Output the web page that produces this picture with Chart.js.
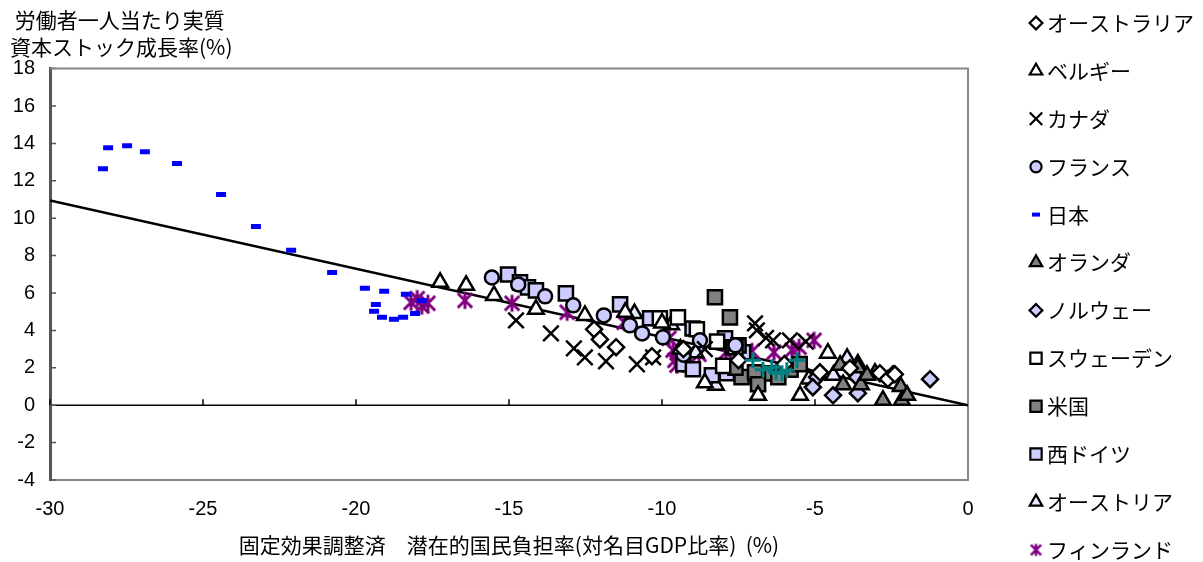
<!DOCTYPE html>
<html>
<head>
<meta charset="utf-8">
<script src="https://cdn.jsdelivr.net/npm/chart.js@4/dist/chart.umd.min.js"></script>
<style>
html,body{margin:0;background:#fff}
#wrap{width:1203px;height:562px}
</style>
</head>
<body>
<div id="wrap"><canvas id="c"></canvas></div>
<script>
// data: [x, y] pairs
const names = ["オーストラリア","ベルギー","カナダ","フランス","日本","オランダ","ノルウェー","スウェーデン","米国","西ドイツ","オーストリア","フィンランド"]
const australia = [[-12.22,4.06],[-12.03,3.52],[-11.5,3.1],[-10.33,2.62],[-9.3,3.0],[-7.5,2.4],[-6.0,2.2],[-4.84,1.76],[-3.86,1.98],[-2.88,1.71],[-2.62,1.4],[-2.39,1.65]]
const belgium = [[-17.25,6.57],[-16.4,6.41],[-15.49,5.87],[-14.12,5.13],[-12.52,4.8],[-11.2,4.97],[-10.0,4.4],[-9.4,3.0],[-8.6,1.2],[-6.86,0.53],[-5.49,0.53],[-4.58,2.78]]
const canada = [[-14.77,4.54],[-13.63,3.84],[-12.88,3.04],[-12.52,2.56],[-11.83,2.35],[-10.82,2.19],[-10.29,2.56],[-6.96,4.38],[-6.9,4.0],[-6.37,3.47],[-5.82,3.47],[-5.3,3.4],[-6.6,3.6],[-8.6,3.0]]
const france = [[-15.56,6.83],[-14.7,6.46],[-13.82,5.82],[-12.9,5.34],[-11.9,4.8],[-11.05,4.27],[-10.65,3.84],[-9.97,3.63],[-8.76,3.47],[-7.6,3.2],[-9.3,2.7]]
const japan = [[-28.27,12.65],[-28.1,13.77],[-27.48,13.88],[-26.9,13.56],[-25.85,12.92],[-24.41,11.27],[-23.27,9.56],[-22.12,8.28],[-20.78,7.1],[-19.71,6.25],[-19.08,6.09],[-18.37,5.93],[-19.35,5.39],[-19.41,5.02],[-19.15,4.7],[-18.76,4.59],[-18.46,4.7],[-18.07,4.91],[-17.85,5.6]]
const netherlands = [[-4.18,2.14],[-4.08,1.1],[-3.6,2.0],[-3.5,1.1],[-3.04,1.71],[-2.78,0.27],[-2.2,1.0],[-2.16,0.27],[-1.99,0.53],[-3.3,1.6]]
const norway = [[-4.93,1.5],[-5.07,0.96],[-4.41,0.53],[-3.63,1.5],[-3.6,0.64],[-2.45,1.65],[-1.24,1.39]]
const sweden = [[-10.07,4.65],[-9.48,4.7],[-8.86,4.06],[-8.2,3.4],[-7.6,3.1],[-8.0,2.1]]
const usa = [[-8.27,5.77],[-7.78,4.7],[-7.5,3.2],[-7.4,1.5],[-6.96,1.76],[-6.86,1.12],[-6.4,1.7],[-5.8,1.9],[-5.5,2.2],[-7.6,2.0],[-6.2,1.5]]
const westGermany = [[-15.03,6.99],[-14.64,6.57],[-14.38,6.3],[-14.12,6.14],[-13.14,5.98],[-11.37,5.39],[-10.39,4.65],[-9.0,4.1],[-9.3,2.2],[-8.99,1.92],[-8.37,1.6],[-7.88,1.71],[-7.94,3.58],[-7.68,3.1],[-7.35,2.83]]
const austria = [[-9.7,4.3],[-10.9,4.9],[-8.9,2.8],[-8.24,1.07],[-3.95,2.51],[-4.4,1.6],[-3.6,2.2],[-5.2,1.4]]
const finland = [[-18.2,5.5],[-18.0,5.7],[-17.85,5.3],[-17.65,5.45],[-16.44,5.6],[-14.9,5.45],[-13.1,4.97],[-11.24,4.43],[-9.77,3.58],[-9.64,2.94],[-9.58,2.4],[-9.51,2.14],[-9.25,2.4],[-8.79,2.72],[-7.91,2.83],[-7.06,2.88],[-6.34,2.83],[-5.75,2.94],[-5.52,3.1],[-5.03,3.47]]
const other = [[-7.03,2.4],[-6.41,2.03],[-6.08,1.71],[-5.92,1.87],[-5.59,2.4],[-6.27,1.76],[-6.7,1.9]]
const trend = [[-30,10.95],[0,0]]

const xTicks = [-30,-25,-20,-15,-10,-5,0]
const yTicks = [-4,-2,0,2,4,6,8,10,12,14,16,18]

function asterisk(size, color, lw){
  const c = document.createElement("canvas")
  c.width = c.height = size
  const g = c.getContext("2d")
  g.strokeStyle = color
  g.lineWidth = lw
  const m = size/2, r = size/2 - 1.5, d = r*0.85
  g.beginPath()
  g.moveTo(m, m-r); g.lineTo(m, m+r)
  g.moveTo(m-d, m-d); g.lineTo(m+d, m+d)
  g.moveTo(m+d, m-d); g.lineTo(m-d, m+d)
  g.stroke()
  return c
}

const lav = "#CCCCFF", grey = "#808080"
const looks = [
  {style:"rectRot", r:8, bg:"#fff", bc:"#000"},
  {style:"triangle", r:9, bg:"#fff", bc:"#000"},
  {style:"crossRot", r:11, bg:"#000", bc:"#000"},
  {style:"circle", r:7, bg:lav, bc:"#000"},
  {style:"line", r:5, bg:"#0000FF", bc:"#0000FF", bw:5},
  {style:"triangle", r:9, bg:grey, bc:"#000"},
  {style:"rectRot", r:8, bg:lav, bc:"#000"},
  {style:"rect", r:10, bg:"#fff", bc:"#000"},
  {style:"rect", r:10, bg:grey, bc:"#000"},
  {style:"rect", r:10, bg:lav, bc:"#000"},
  {style:"triangle", r:9, bg:"#E8E8FF", bc:"#000"},
  {style:asterisk(20,"#800080",3), r:9, bg:"#800080", bc:"#800080", legendStyle:asterisk(15,"#800080",2.5)}
]
const series = [australia,belgium,canada,france,japan,netherlands,norway,sweden,usa,westGermany,austria,finland]
const pts = a => a.map(p => ({x:p[0], y:p[1]}))

const datasets = series.map((s,i) => ({
  type:"scatter",
  label:names[i],
  data:pts(s),
  pointStyle:looks[i].style,
  pointRadius:looks[i].r,
  pointBackgroundColor:looks[i].bg,
  pointBorderColor:looks[i].bc,
  pointBorderWidth:looks[i].bw || 2.5,
  order:i
}))
datasets.push({type:"scatter", label:"", data:pts(other), pointStyle:"cross", pointRadius:8,
  pointBorderColor:"#008080", pointBorderWidth:3, order:-1})
datasets.push({type:"line", label:"", data:pts(trend), borderColor:"#000", borderWidth:2.5,
  pointRadius:0, fill:false, order:100})

const font = "'Noto Sans CJK JP', 'Noto Sans', sans-serif"
const numFont = "'Liberation Sans', Arial, sans-serif"

const decor = {
  id:"decor",
  beforeDatasetsDraw(chart){
    const {ctx, chartArea:a, scales:{x,y}} = chart
    ctx.save()
    const y0 = y.getPixelForValue(0)
    ctx.strokeStyle = "#000"
    ctx.lineWidth = 1.5
    ctx.beginPath()
    ctx.moveTo(a.left, y0); ctx.lineTo(a.right, y0)
    xTicks.forEach(v => { const px = x.getPixelForValue(v); ctx.moveTo(px, y0); ctx.lineTo(px, y0-6) })
    ctx.stroke()
    ctx.strokeStyle = "#555"
    ctx.beginPath()
    yTicks.forEach(v => { const py = y.getPixelForValue(v); ctx.moveTo(a.left, py); ctx.lineTo(a.left+6, py) })
    ctx.stroke()
    ctx.strokeStyle = "#888"
    ctx.lineWidth = 2
    ctx.beginPath()
    ctx.moveTo(a.left, a.top); ctx.lineTo(a.right, a.top); ctx.lineTo(a.right, a.bottom)
    ctx.stroke()
    ctx.restore()
  },
  afterDraw(chart){
    const ctx = chart.ctx
    ctx.save()
    ctx.font = "21px " + font
    ctx.textBaseline = "middle"
    names.forEach((n,i) => {
      const yy = 23 + i*47.9
      const lk = looks[i]
      ctx.fillStyle = lk.bg
      ctx.strokeStyle = lk.bc
      ctx.lineWidth = lk.bw ? 4 : 2.2
      Chart.helpers.drawPoint(ctx, {pointStyle: lk.legendStyle || lk.style, radius: lk.bw ? 4 : lk.r*0.8, rotation:0, borderWidth: lk.bw ? 4 : 2.2}, 1036, yy)
      ctx.fillStyle = "#000"
      ctx.fillText(n, 1047, yy)
    })
    ctx.restore()
  }
}

new Chart(document.getElementById("c"), {
  data:{datasets:datasets},
  options:{
    responsive:true,
    maintainAspectRatio:false,
    animation:false,
    layout:{padding:{left:10, right:235, top:0, bottom:0}},
    plugins:{
      legend:{display:false},
      tooltip:{enabled:false},
      title:{
        display:true,
        align:"start",
        text:[" 労働者一人当たり実質","資本ストック成長率(%)"],
        color:"#000",
        font:{family:font, size:21, weight:"normal", lineHeight:1.3},
        padding:{top:6, bottom:8}
      }
    },
    scales:{
      x:{
        type:"linear", min:-30, max:0,
        afterBuildTicks(s){ s.ticks = xTicks.map(v => ({value:v})) },
        afterFit(s){ s.height = 82 },
        grid:{drawOnChartArea:false, drawTicks:false},
        border:{color:"#888", width:2},
        ticks:{color:"#000", padding:17, font:{family:numFont, size:20}},
        title:{display:true, text:"固定効果調整済　潜在的国民負担率(対名目GDP比率)  (%)", color:"#000",
          font:{family:font, size:21}, padding:{top:3}}
      },
      y:{
        type:"linear", min:-4, max:18,
        afterBuildTicks(s){ s.ticks = yTicks.map(v => ({value:v})) },
        afterFit(s){ s.width = 40 },
        grid:{drawOnChartArea:false, drawTicks:false},
        border:{color:"#555", width:3},
        ticks:{color:"#000", padding:15, font:{family:numFont, size:20}}
      }
    }
  },
  plugins:[decor]
})
</script>
</body>
</html>
